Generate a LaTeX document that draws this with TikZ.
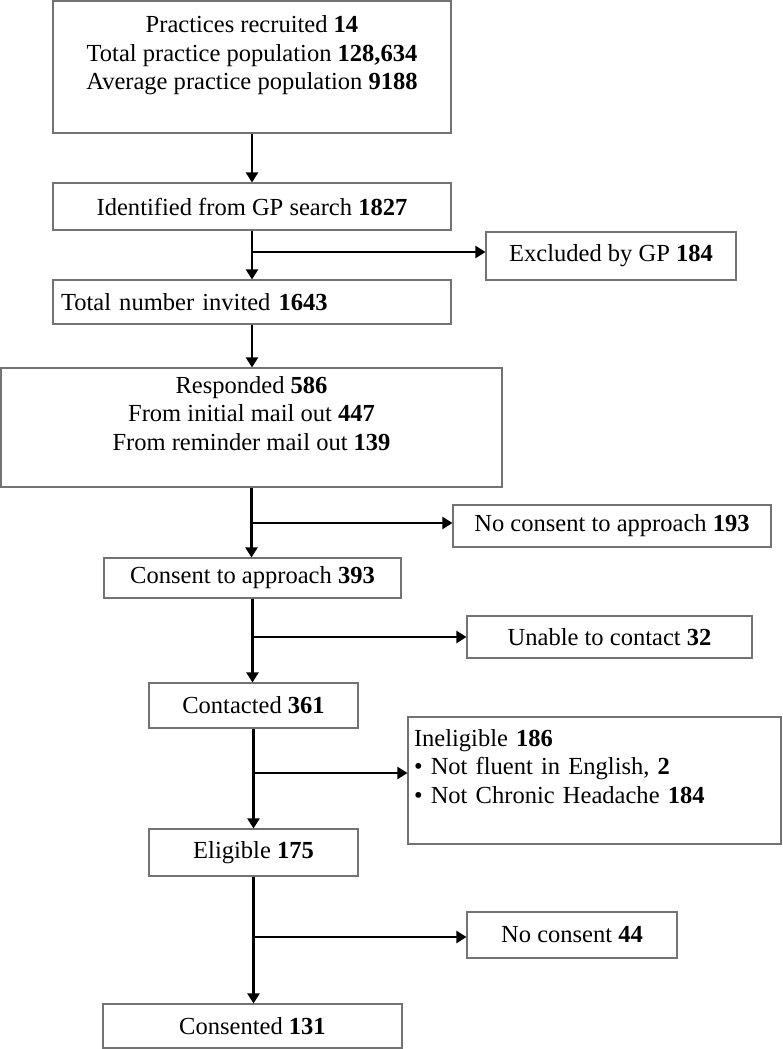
\documentclass[tikz,border=0pt]{standalone}
\usepackage{fontspec}
\setmainfont{Liberation Serif}
\usetikzlibrary{arrows.meta}

\begin{document}
\begin{tikzpicture}[x=0.75pt,y=-0.75pt,
  box/.style={draw=black!55,line width=0.8pt,inner sep=0pt,align=center,font=\fontsize{18.4}{21.5}\selectfont},
  lbox/.style={box,align=left,inner xsep=6pt},
  flow/.style={line width=1.6pt,-{Triangle[length=7.5pt,width=9pt]}}]
\useasboundingbox (0,0) rectangle (782,1049);

\node[box,minimum width=298.5pt,minimum height=99pt] (practices) at (252,67) {Practices recruited \textbf{14}\\Total practice population \textbf{128,634}\\Average practice population \textbf{9188}\\~};
\node[box,minimum width=298.5pt,minimum height=35.25pt] (search) at (252,206.5) {Identified from GP search \textbf{1827}};
\node[lbox,text width=286.5pt,minimum height=33pt] (invited) at (252,302) {Total number invited \textbf{1643}};
\node[box,minimum width=375.75pt,minimum height=89.25pt] (responded) at (251.5,427.5) {Responded \textbf{586}\\From initial mail out \textbf{447}\\From reminder mail out \textbf{139}\\~};
\node[box,minimum width=222.75pt,minimum height=30pt] (consent) at (252.5,578) {Consent to approach \textbf{393}};
\node[box,minimum width=156.75pt,minimum height=33.75pt] (contacted) at (253.5,705.5) {Contacted \textbf{361}};
\node[box,minimum width=156.75pt,minimum height=35.25pt] (eligible) at (253.5,852.5) {Eligible \textbf{175}};
\node[box,minimum width=224.25pt,minimum height=33pt] (consented) at (252.5,1026) {Consented \textbf{131}};

\node[box,minimum width=187.5pt,minimum height=36pt] (excluded) at (611,256) {Excluded by GP \textbf{184}};
\node[box,minimum width=238.5pt,minimum height=31.5pt] (noapproach) at (612,526) {No consent to approach \textbf{193}};
\node[box,minimum width=213.75pt,minimum height=31.5pt] (unable) at (609.5,637) {Unable to contact \textbf{32}};
\node[lbox,inner xsep=4.5pt,text width=270.75pt,minimum height=95.25pt] (ineligible) at (594.5,780.5) {Ineligible \textbf{186}\\\textbullet\ Not fluent in English, \textbf{2}\\\textbullet\ Not Chronic Headache \textbf{184}\\~};
\node[box,minimum width=157.5pt,minimum height=34.5pt] (noconsent) at (572,935) {No consent \textbf{44}};

\coordinate (j1) at (252,252);
\coordinate (j2) at (251.5,523);
\coordinate (j3) at (252.5,637);
\coordinate (j4) at (253.5,773);
\coordinate (j5) at (253.5,937);

\foreach \a/\b in {practices/search,search/invited,invited/responded,responded/consent,consent/contacted,contacted/eligible,eligible/consented}
\draw[flow] (\a.south) -- (\a.south |- \b.north);
\foreach \j/\b in {j1/excluded,j2/noapproach,j3/unable,j4/ineligible,j5/noconsent}
\draw[flow] (\j) -- (\j -| \b.west);
\end{tikzpicture}
\end{document}
